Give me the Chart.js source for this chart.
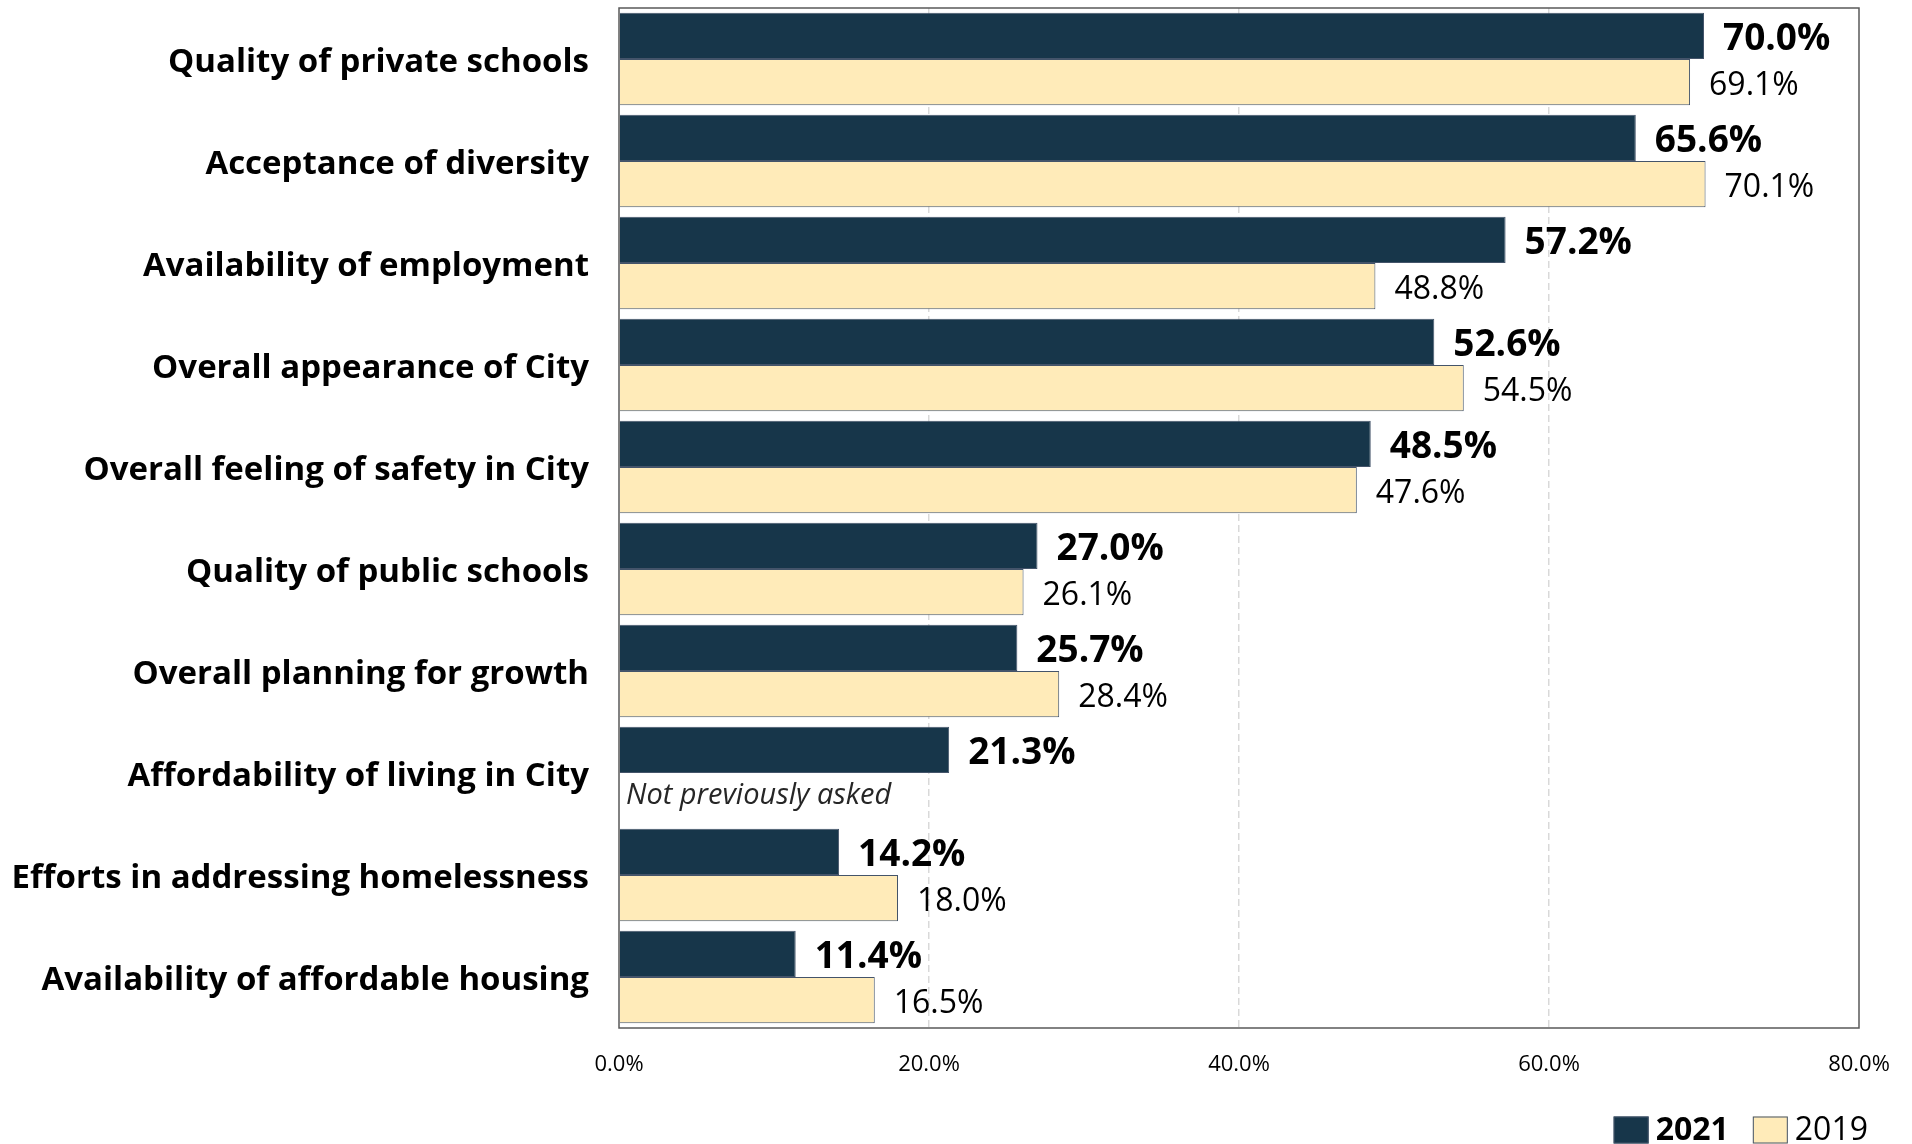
<!DOCTYPE html>
<html>
<head>
<meta charset="utf-8">
<script src="https://cdn.jsdelivr.net/npm/chart.js@4.4.0/dist/chart.umd.min.js"></script>
<style>
  html, body { margin: 0; padding: 0; background: #fff; }
  canvas { display: block; }
</style>
</head>
<body>
<canvas id="chart" width="1912" height="1144"></canvas>
<script>
const categories = [
  'Quality of private schools',
  'Acceptance of diversity',
  'Availability of employment',
  'Overall appearance of City',
  'Overall feeling of safety in City',
  'Quality of public schools',
  'Overall planning for growth',
  'Affordability of living in City',
  'Efforts in addressing homelessness',
  'Availability of affordable housing'
];
const values2021 = [70.0, 65.6, 57.2, 52.6, 48.5, 27.0, 25.7, 21.3, 14.2, 11.4];
const values2019 = [69.1, 70.1, 48.8, 54.5, 47.6, 26.1, 28.4, null, 18.0, 16.5];
const seriesNames = ['2021', '2019'];
const xMin = 0, xMax = 80, xStep = 20;
const missingNote = 'Not previously asked';

const FONT = "'Open Sans', sans-serif";
const NAVY = '#17364a';
const CREAM = '#ffebb9';

// thin frame around the plotting area
const plotFrame = {
  id: 'plotFrame',
  afterDraw(chart) {
    const { ctx, chartArea: a } = chart;
    ctx.save();
    ctx.strokeStyle = '#595959';
    ctx.lineWidth = 1.5;
    ctx.strokeRect(a.left, a.top, a.right - a.left, a.bottom - a.top);
    ctx.restore();
  }
};

// value labels at the bar ends, plus the note for the missing 2019 value
const barValues = {
  id: 'barValues',
  afterDatasetsDraw(chart) {
    const { ctx } = chart;
    const yScale = chart.scales.y;
    const xScale = chart.scales.x;
    ctx.save();
    ctx.textBaseline = 'middle';
    ctx.textAlign = 'left';
    ctx.fillStyle = '#000';
    chart.data.datasets.forEach((ds, di) => {
      const meta = chart.getDatasetMeta(di);
      ctx.font = di === 0 ? 'bold 37px ' + FONT : '32px ' + FONT;
      meta.data.forEach((bar, i) => {
        const v = ds.data[i];
        if (v == null) return;
        const { x, y } = bar.getProps(['x', 'y'], true);
        ctx.fillText(v.toFixed(1) + '%', x + 19, y + 4);
      });
    });
    // 2019 row offset from the category centre, taken from a drawn bar
    const meta19 = chart.getDatasetMeta(1);
    const ref = meta19.data[0].getProps(['y'], true).y - yScale.getPixelForValue(0);
    ctx.font = 'italic 29px ' + FONT;
    ctx.fillStyle = '#262626';
    values2019.forEach((v, i) => {
      if (v != null) return;
      ctx.fillText(missingNote, xScale.getPixelForValue(0) + 7, yScale.getPixelForValue(i) + ref);
    });
    ctx.restore();
  }
};

// bottom-right legend, the current year in bold
const cornerLegend = {
  id: 'cornerLegend',
  afterDraw(chart) {
    const { ctx } = chart;
    const colors = [NAVY, CREAM];
    const fonts = ['bold 32px ' + FONT, '32px ' + FONT];
    const boxW = 35, boxH = 27, gap = 7, itemGap = 24;
    const cy = chart.height - 14;
    let x = chart.width - 44;
    ctx.save();
    ctx.textBaseline = 'middle';
    ctx.textAlign = 'left';
    for (let i = seriesNames.length - 1; i >= 0; i--) {
      ctx.font = fonts[i];
      const w = ctx.measureText(seriesNames[i]).width;
      x -= w;
      ctx.fillStyle = '#000';
      ctx.fillText(seriesNames[i], x, cy + 1);
      x -= gap + boxW;
      ctx.fillStyle = colors[i];
      ctx.fillRect(x, cy - boxH / 2, boxW, boxH);
      ctx.strokeStyle = '#44546a';
      ctx.lineWidth = 1;
      ctx.strokeRect(x + 0.5, cy - boxH / 2 + 0.5, boxW - 1, boxH - 1);
      x -= itemGap;
    }
    ctx.restore();
  }
};

new Chart(document.getElementById('chart'), {
  type: 'bar',
  data: {
    labels: categories,
    datasets: [
      {
        label: seriesNames[0],
        data: values2021,
        backgroundColor: NAVY,
        borderColor: '#44546a',
        borderWidth: 1
      },
      {
        label: seriesNames[1],
        data: values2019,
        backgroundColor: CREAM,
        borderColor: '#44546a',
        borderWidth: 1
      }
    ]
  },
  options: {
    indexAxis: 'y',
    responsive: false,
    animation: false,
    devicePixelRatio: 1,
    categoryPercentage: 0.905,
    barPercentage: 1.0,
    layout: { padding: { top: 8, right: 53, left: 0, bottom: 0 } },
    plugins: {
      legend: { display: false },
      tooltip: { enabled: false }
    },
    scales: {
      x: {
        min: xMin,
        max: xMax,
        ticks: {
          stepSize: xStep,
          padding: 24,
          color: '#000',
          font: { family: FONT, size: 22 },
          callback: v => v.toFixed(1) + '%'
        },
        grid: {
          drawTicks: false,
          color: c => (c.tick && (c.tick.value === xMin || c.tick.value === xMax)) ? 'rgba(0,0,0,0)' : '#d9d9d9',
          lineWidth: 1.5
        },
        border: { display: false, dash: [7, 4] },
        afterFit(scale) {
          scale.height = 116;
          scale.paddingLeft = 0;
          scale.paddingRight = 0;
        }
      },
      y: {
        ticks: {
          padding: 30,
          labelOffset: 4,
          color: '#000',
          font: { family: FONT, size: 33, weight: 'bold' }
        },
        grid: { display: false, drawTicks: false },
        border: { display: false },
        afterFit(scale) {
          scale.width = 619;
          scale.paddingTop = 0;
          scale.paddingBottom = 0;
        }
      }
    }
  },
  plugins: [plotFrame, barValues, cornerLegend]
});
</script>
</body>
</html>
